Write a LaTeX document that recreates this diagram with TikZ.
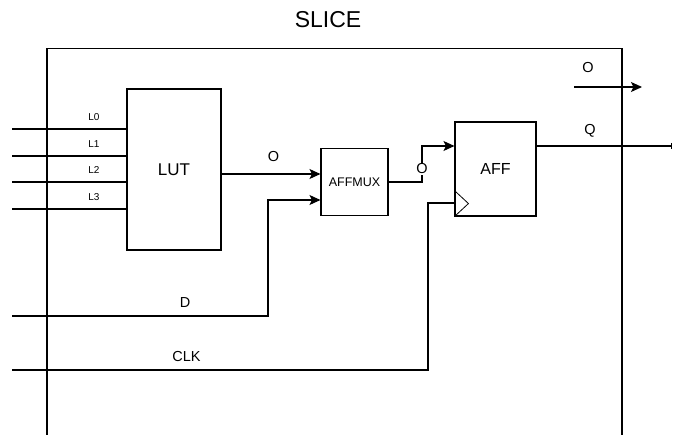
\documentclass[tikz,border=0pt]{standalone}
\usepackage{fontspec}
\setmainfont{Liberation Sans}
\usepackage{tikz}
\usetikzlibrary{arrows.meta,positioning,calc}

\begin{document}
\begin{tikzpicture}[x=1pt,y=-1pt,
    wire/.style={line width=1.1pt,line cap=rect},
    arr/.style={wire,-{Stealth[length=11pt,width=10pt,inset=2.5pt]}},
    block/.style={draw,line width=1.1pt,inner sep=0pt},
    sig/.style={inner sep=0pt,font=\fontsize{14.5}{16}\selectfont},
    pin/.style={inner sep=0pt,font=\fontsize{10}{12}\selectfont}]
  \useasboundingbox (0,0) rectangle (673,435);
  % slice frame, open at the bottom
  \draw[wire] (47,435) -- (47,48.5) -- (622,48.5) -- (622,435);
  \node[inner sep=0pt,font=\fontsize{23}{26}\selectfont] (slice) at (328,20) {SLICE};

  % blocks
  \node[block,minimum width=94pt,minimum height=161pt,font=\fontsize{17}{19}\selectfont] (lut) at (174,169.5) {LUT};
  \node[block,minimum width=67pt,minimum height=67pt,font=\fontsize{12.5}{14}\selectfont] (mux) at (354.5,182) {AFFMUX};
  \node[block,minimum width=81pt,minimum height=94pt,font=\fontsize{16}{18}\selectfont] (aff) at (495.5,169) {AFF};
  \draw[line width=0.8pt] ($(aff.south west)+(0,-26)$) -- ++(14,13) -- (aff.south west);

  % LUT inputs
  \foreach \i/\y in {0/129,1/156,2/182,3/209}{
    \coordinate (in\i) at (13,\y);
    \draw[wire] (in\i) -- (in\i -| lut.west);
    \node[pin] (l\i) at (94,\y-12) {L\i};
  }

  % LUT -> AFFMUX
  \coordinate (lutO) at (221,174);
  \draw[arr] (lutO) -- (lutO -| mux.west);
  \node[sig] (olut) at (273.5,156.5) {O};

  % D input
  \coordinate (dIn) at (13,316);
  \coordinate (dUp) at (268,200);
  \draw[arr] (dIn) -| (dUp) -- (dUp -| mux.west);
  \node[sig] (d) at (185,303) {D};

  % AFFMUX -> AFF
  \coordinate (oUp) at (422,146);
  \draw[arr] (mux.east) -| (oUp) -- (oUp -| aff.west);
  \node[sig,fill=white,inner sep=1pt] (omux) at (422,169) {O};

  % clock
  \coordinate (clkIn) at (13,370);
  \coordinate (clkUp) at (428,203);
  \draw[wire] (clkIn) -| (clkUp) -- (clkUp -| aff.west);
  \node[sig] (clk) at (186.5,356.5) {CLK};

  % outputs
  \coordinate (qEnd) at (672,146);
  \draw[wire,-{Bar[width=6pt,line width=1pt]}] (aff.east |- qEnd) -- (qEnd);
  \node[sig] (q) at (590,131) {Q};
  \coordinate (oA) at (575,87);
  \coordinate (oB) at (642,87);
  \draw[arr] (oA) -- (oB);
  \node[sig] (otop) at (588,68) {O};
\end{tikzpicture}
\end{document}
